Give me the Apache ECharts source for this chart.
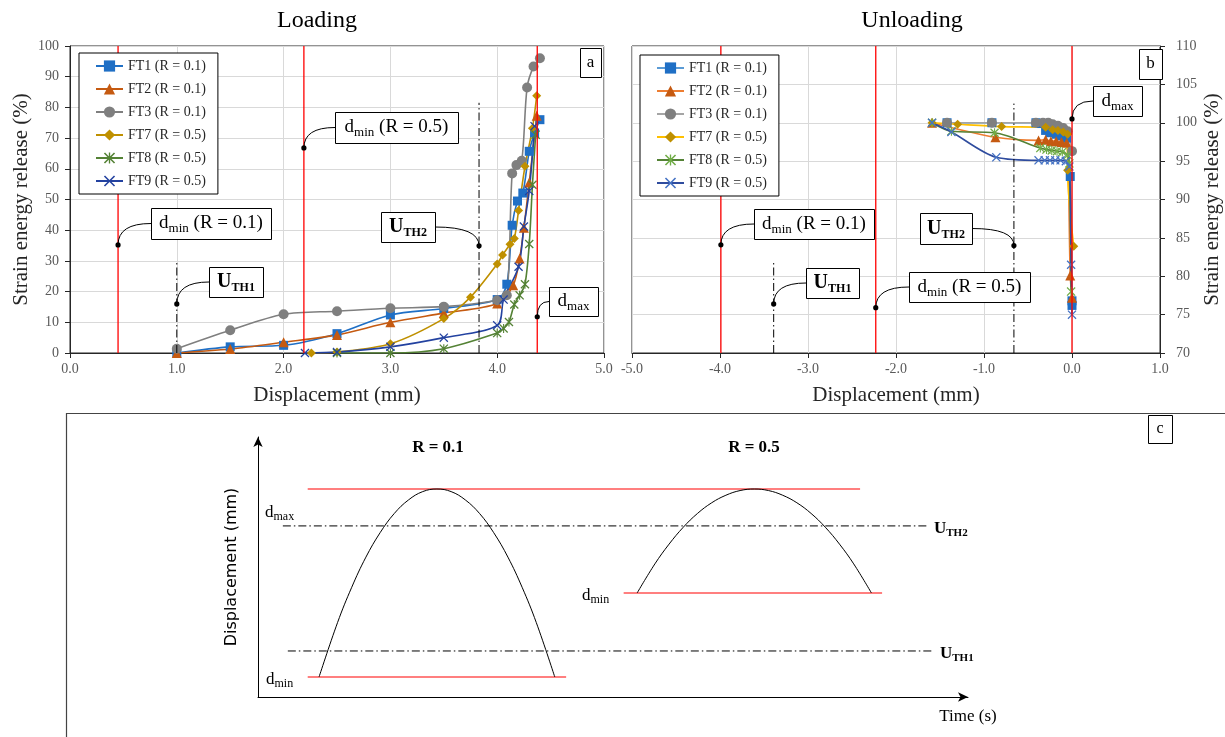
<!DOCTYPE html>
<html><head><meta charset="utf-8">
<script src="https://cdn.jsdelivr.net/npm/echarts@6/dist/echarts.min.js"></script>
<style>html,body{margin:0;padding:0;background:#fff}#c{width:1225px;height:737px}</style>
</head><body><div id="c"></div><script>
// ---------- data ----------
const seriesNames = ['FT1 (R = 0.1)', 'FT2 (R = 0.1)', 'FT3 (R = 0.1)', 'FT7 (R = 0.5)', 'FT8 (R = 0.5)', 'FT9 (R = 0.5)'];

// Panel a: Loading (displacement mm, strain energy release %)
const loadFT1 = [[1.0,0],[1.5,2.0],[2.0,2.5],[2.5,6.3],[3.0,12.4],[3.5,14.5],[4.0,17.4],[4.09,22.4],[4.14,41.6],[4.19,49.5],[4.24,52.1],[4.30,65.7],[4.35,71.7],[4.40,76.0]];
const loadFT2 = [[1.0,0],[1.5,1.3],[2.0,3.5],[2.5,5.9],[3.0,10.0],[3.5,13.0],[4.0,16.1],[4.15,22.1],[4.21,30.8],[4.25,40.8],[4.30,55.5],[4.37,77.3]];
const loadFT3 = [[1.0,1.4],[1.5,7.4],[2.0,12.6],[2.5,13.6],[3.0,14.6],[3.5,15.1],[4.0,17.2],[4.09,18.8],[4.14,58.5],[4.18,61.2],[4.23,62.6],[4.28,86.5],[4.34,93.3],[4.40,96.0]];
const loadFT7 = [[2.26,0],[2.5,0.3],[3.0,3.0],[3.5,11.2],[3.75,18.2],[4.0,29.0],[4.05,31.9],[4.12,35.4],[4.16,37.3],[4.20,46.4],[4.26,60.8],[4.33,73.2],[4.37,83.8]];
const loadFT8 = [[2.5,0],[3.0,0],[3.5,1.4],[4.0,6.5],[4.06,8.0],[4.11,10.1],[4.16,15.8],[4.21,18.8],[4.26,22.4],[4.30,35.5],[4.33,54.8],[4.36,71.1]];
const loadFT9 = [[2.2,0],[2.5,0.3],[3.0,2.0],[3.5,5.0],[4.0,9.0],[4.06,17.4],[4.20,28.1],[4.25,41.2],[4.30,52.8],[4.35,73.9]];

// Panel b: Unloading
const unFT1 = [[-1.42,100],[-0.91,100],[-0.41,100],[-0.35,99.9],[-0.30,99.0],[-0.25,98.7],[-0.18,98.5],[-0.12,98.3],[-0.06,98.0],[-0.02,93.0],[0,76.8],[0,76.2]];
const unFT2 = [[-1.59,100],[-0.87,98.1],[-0.38,97.7],[-0.30,97.8],[-0.24,97.6],[-0.18,97.6],[-0.12,97.5],[-0.06,97.4],[-0.02,80.1],[0,77.2]];
const unFT3 = [[-1.42,100],[-0.91,100],[-0.41,100],[-0.33,100],[-0.27,100],[-0.22,99.8],[-0.16,99.6],[-0.10,99.3],[-0.05,98.9],[0,96.3]];
const unFT7 = [[-1.59,100],[-1.30,99.8],[-0.80,99.5],[-0.30,99.4],[-0.22,99.1],[-0.16,99.0],[-0.10,98.8],[-0.05,98.5],[-0.05,93.8],[0.02,83.9]];
const unFT8 = [[-1.59,100],[-1.37,98.9],[-0.88,98.7],[-0.36,96.7],[-0.29,96.5],[-0.23,96.4],[-0.17,96.3],[-0.11,96.2],[-0.05,95.8],[-0.03,94.7],[-0.01,78.0]];
const unFT9 = [[-1.59,100],[-1.37,98.8],[-0.86,95.5],[-0.38,95.1],[-0.31,95.1],[-0.25,95.1],[-0.19,95.1],[-0.13,95.1],[-0.07,95.0],[-0.03,94.3],[-0.01,81.5],[0,75.0]];

// Reference lines
const loadRedX = [0.45, 2.19, 4.375];            // dmin(R=0.1), dmin(R=0.5), dmax
const loadDashX = [1.0, 3.83];                    // UTH1, UTH2
const loadDashTop = [29.5, 81.5];
const unRedX = [-3.99, -2.23, 0.0];
const unDashX = [-3.39, -0.66];
const unDashTop = [81.8, 102.5];

// Axis ticks
const axA = {xmin:0, xmax:5, xint:1, ymin:0, ymax:100, yint:10};
const axB = {xmin:-5, xmax:1, xint:1, ymin:70, ymax:110, yint:5};

// Panel c schematic (time units 0-100, displacement units 0-100)
const schemeTop = [[7,80],[84.8,80]];
const schemeMin01 = [[7,7.7],[43.4,7.7]];
const schemeMin05 = [[51.5,40],[87.9,40]];
const schemeUth2 = [[3.5,65.8],[94.2,65.8]];
const schemeUth1 = [[4.2,17.7],[94.9,17.7]];
const wave01X = [8.6,11.2,13.2,15.2,17.2,19.2,21.2,23.2,25.2,27.2,29.2,31.2,33.2,35.2,37.2,39.2,41.8];
const wave01Y = [7.7,28.6,42.2,53.8,63.2,70.6,75.8,79.0,80,79.0,75.8,70.6,63.2,53.8,42.2,28.6,7.7];
const wave05X = [53.4,55.9,57.9,59.9,61.9,63.9,65.9,67.9,69.9,71.9,73.9,75.9,77.9,79.9,81.9,83.9,86.4];
const wave05Y = [40,51.2,58.8,65.3,70.6,74.7,77.6,79.4,80,79.4,77.6,74.7,70.6,65.3,58.8,51.2,40];

// ---------- styling ----------
const SERIF = 'Liberation Serif';
const STAR = 'path://M1,0 L5,4 L9,0 L10,1 L6,5 L10,9 L9,10 L5,6 L1,10 L0,9 L4,5 L0,1 Z M4.4,0 L5.6,0 L5.6,10 L4.4,10 Z';
const XSYM = 'path://M1,0 L5,4 L9,0 L10,1 L6,5 L10,9 L9,10 L5,6 L1,10 L0,9 L4,5 L0,1 Z';
const symbols = ['rect','triangle','circle','diamond',STAR,XSYM];
const symSizes = [9,10,10,9,9,9];
const colA = ['#1F6FC5','#C55A11','#7F7F7F','#BF9000','#548235','#2342A0'];
const lineB = ['#5B9BD5','#ED7D31','#A5A5A5','#FFC000','#548235','#2F4C9E'];
const markB = ['#1F6FC5','#C55A11','#7F7F7F','#BF9000','#70AD47','#4472C4'];
const loadSets = [loadFT1, loadFT2, loadFT3, loadFT7, loadFT8, loadFT9];
const unSets = [unFT1, unFT2, unFT3, unFT7, unFT8, unFT9];
const namesB = seriesNames.map(n => n + ' ');

const chart = echarts.init(document.getElementById('c'));

const axisLabel = {fontFamily: SERIF, fontSize: 14, color: '#595959', margin: 9, formatter: v => (+v).toFixed(1)};
const yLabelA = {fontFamily: SERIF, fontSize: 14, color: '#595959', margin: 11};
const yLabelB = {fontFamily: SERIF, fontSize: 14, color: '#595959', margin: 16};
const nameStyle = {fontFamily: SERIF, fontSize: 21, color: '#262626'};
const splitLine = {show: true, lineStyle: {color: '#D9D9D9', width: 1}};
const axLine = {show: true, onZero: false, lineStyle: {color: '#262626', width: 1}};
const tick = {show: true, inside: false, length: 5, lineStyle: {color: '#262626'}};

const series = [];
loadSets.forEach((d, i) => series.push({
  type: 'line', name: seriesNames[i], xAxisIndex: 0, yAxisIndex: 0, data: d, smooth: 0.3,
  symbol: symbols[i], symbolSize: symSizes[i], showAllSymbol: true,
  lineStyle: {color: colA[i], width: 1.6}, itemStyle: {color: colA[i]}, z: 2, silent: true
}));
unSets.forEach((d, i) => series.push({
  type: 'line', name: namesB[i], xAxisIndex: 1, yAxisIndex: 1, data: d, smooth: 0.3,
  symbol: symbols[i], symbolSize: symSizes[i], showAllSymbol: true,
  lineStyle: {color: lineB[i], width: 1.6}, itemStyle: {color: markB[i]}, z: 2, silent: true
}));
function vline(ax, x, y0, y1, color, type, w) {
  series.push({type: 'line', xAxisIndex: ax, yAxisIndex: ax, data: [[x, y0], [x, y1]], symbol: 'none', silent: true,
    lineStyle: {color, width: w, type}, z: 3});
}
loadRedX.forEach(x => vline(0, x, axA.ymin, axA.ymax, '#FF0000', 'solid', 1.3));
loadDashX.forEach((x, i) => vline(0, x, axA.ymin, loadDashTop[i], '#000', [8, 3, 1.5, 3], 1));
unRedX.forEach(x => vline(1, x, axB.ymin, axB.ymax, '#FF0000', 'solid', 1.3));
unDashX.forEach((x, i) => vline(1, x, axB.ymin, unDashTop[i], '#000', [8, 3, 1.5, 3], 1));
function hline(pts, color, type, w) {
  series.push({type: 'line', xAxisIndex: 2, yAxisIndex: 2, data: pts, symbol: 'none', silent: true, lineStyle: {color, width: w, type}, z: 3});
}
hline(schemeTop, '#FF0000', 'solid', 1.2);
hline(schemeMin01, '#FF0000', 'solid', 1.2);
hline(schemeMin05, '#FF0000', 'solid', 1.2);
hline(schemeUth2, '#000', [8, 3, 1.5, 3], 1);
hline(schemeUth1, '#000', [8, 3, 1.5, 3], 1);
series.push({type: 'line', xAxisIndex: 2, yAxisIndex: 2, data: wave01X.map((x, i) => [x, wave01Y[i]]), smooth: 0.4, symbol: 'none', silent: true, lineStyle: {color: '#000', width: 1}, z: 4});
series.push({type: 'line', xAxisIndex: 2, yAxisIndex: 2, data: wave05X.map((x, i) => [x, wave05Y[i]]), smooth: 0.4, symbol: 'none', silent: true, lineStyle: {color: '#000', width: 1}, z: 4});

const legendBase = {orient: 'vertical', backgroundColor: '#fff', borderColor: '#000', borderWidth: 1,
  padding: [6, 12, 6, 16], itemGap: 9, itemWidth: 27, itemHeight: 14, selectedMode: false,
  textStyle: {fontFamily: SERIF, fontSize: 14, color: '#262626'}, z: 10};

const arrowLine = {show: true, onZero: false, symbol: ['none', 'arrow'], symbolSize: [7, 10], lineStyle: {color: '#000', width: 1}};

chart.setOption({
  animation: false,
  backgroundColor: '#fff',
  grid: [
    {left: 70, top: 46, width: 534, height: 307, show: true, borderColor: '#262626', borderWidth: 1},
    {left: 632, top: 46, width: 528, height: 307, show: true, borderColor: '#262626', borderWidth: 1},
    {left: 258, top: 437, width: 710, height: 260}
  ],
  legend: [
    Object.assign({}, legendBase, {left: 79, top: 53, data: seriesNames}),
    Object.assign({}, legendBase, {left: 640, top: 55, data: namesB, formatter: n => n.trim()})
  ],
  xAxis: [
    {gridIndex: 0, type: 'value', min: axA.xmin, max: axA.xmax, interval: axA.xint, axisLabel, splitLine, axisLine: axLine, axisTick: tick,
      name: 'Displacement (mm)', nameLocation: 'middle', nameGap: 32, nameTextStyle: nameStyle},
    {gridIndex: 1, type: 'value', min: axB.xmin, max: axB.xmax, interval: axB.xint, axisLabel, splitLine, axisLine: axLine, axisTick: tick,
      name: 'Displacement (mm)', nameLocation: 'middle', nameGap: 32, nameTextStyle: nameStyle},
    {gridIndex: 2, type: 'value', min: 0, max: 100, axisLabel: {show: false}, splitLine: {show: false}, axisTick: {show: false},
      axisLine: arrowLine}
  ],
  yAxis: [
    {gridIndex: 0, type: 'value', min: axA.ymin, max: axA.ymax, interval: axA.yint, axisLabel: yLabelA, splitLine, axisLine: axLine, axisTick: tick,
      name: 'Strain energy release (%)', nameLocation: 'middle', nameGap: 38, nameRotate: 90, nameTextStyle: nameStyle},
    {gridIndex: 1, type: 'value', position: 'right', min: axB.ymin, max: axB.ymax, interval: axB.yint, axisLabel: yLabelB, splitLine, axisLine: axLine, axisTick: tick,
      name: 'Strain energy release (%)', nameLocation: 'middle', nameGap: 42, nameRotate: 90, nameTextStyle: nameStyle},
    {gridIndex: 2, type: 'value', min: 0, max: 100, axisLabel: {show: false}, splitLine: {show: false}, axisTick: {show: false},
      axisLine: arrowLine,
      name: 'Displacement (mm)', nameLocation: 'middle', nameGap: 18, nameRotate: 90,
      nameTextStyle: {fontFamily: 'DejaVu Sans', fontSize: 16, color: '#000'}}
  ],
  series
});

// ---------- annotations ----------
const dminRich = {
  d: {fontFamily: SERIF, fontSize: 19, lineHeight: 24, fill: '#000'},
  s: {fontFamily: SERIF, fontSize: 13, lineHeight: 13, verticalAlign: 'bottom', fill: '#000'}
};
const uRich = {
  d: {fontFamily: SERIF, fontSize: 20, fontWeight: 'bold', lineHeight: 24, fill: '#000'},
  s: {fontFamily: SERIF, fontSize: 12, fontWeight: 'bold', lineHeight: 12, verticalAlign: 'bottom', fill: '#000'}
};
const txtDmin01 = '{d|d}{s|min}{d| (R = 0.1)}';
const txtDmin05 = '{d|d}{s|min}{d| (R = 0.5)}';
const txtDmax = '{d|d}{s|max}';
const txtU1 = '{d|U}{s|TH1}';
const txtU2 = '{d|U}{s|TH2}';

const callouts = [
  {g: 0, at: [loadRedX[0], 35.2], box: [151, 208, 120, 31], text: txtDmin01, rich: dminRich, side: 'left'},
  {g: 0, at: [loadRedX[1], 66.8], box: [335, 112, 123, 31], text: txtDmin05, rich: dminRich, side: 'left'},
  {g: 0, at: [loadDashX[0], 16.0], box: [209, 267, 54, 30], text: txtU1, rich: uRich, side: 'left'},
  {g: 0, at: [loadDashX[1], 34.9], box: [381, 212, 54, 30], text: txtU2, rich: uRich, side: 'right'},
  {g: 0, at: [loadRedX[2], 11.8], box: [549, 287, 49, 29], text: txtDmax, rich: dminRich, side: 'left'},
  {g: 1, at: [unRedX[2], 100.5], box: [1093, 86, 49, 30], text: txtDmax, rich: dminRich, side: 'left'},
  {g: 1, at: [unRedX[0], 84.1], box: [754, 209, 120, 30], text: txtDmin01, rich: dminRich, side: 'left'},
  {g: 1, at: [unDashX[1], 84.0], box: [920, 213, 52, 31], text: txtU2, rich: uRich, side: 'right'},
  {g: 1, at: [unDashX[0], 76.4], box: [806, 268, 53, 30], text: txtU1, rich: uRich, side: 'left'},
  {g: 1, at: [unRedX[1], 75.9], box: [909, 272, 121, 30], text: txtDmin05, rich: dminRich, side: 'left'}
];

const gfx = [];
function boxText(b, text, rich, extraStyle) {
  gfx.push({type: 'rect', z: 50, shape: {x: b[0] + 0.5, y: b[1] + 0.5, width: b[2], height: b[3]},
    style: {fill: '#fff', stroke: '#000', lineWidth: 1}});
  gfx.push({type: 'text', z: 51, x: b[0] + b[2] / 2, y: b[1] + b[3] / 2,
    style: Object.assign({text, rich, align: 'center', verticalAlign: 'middle', fill: '#000'}, extraStyle || {})});
}
callouts.forEach(c => {
  const p = chart.convertToPixel({gridIndex: c.g}, c.at);
  const b = c.box;
  const ex = c.side === 'left' ? b[0] : b[0] + b[2];
  const ey = b[1] + b[3] / 2;
  gfx.push({type: 'bezierCurve', z: 49, shape: {x1: p[0], y1: p[1], x2: ex, y2: ey, cpx1: p[0], cpy1: ey},
    style: {stroke: '#000', lineWidth: 1, fill: 'none'}});
  gfx.push({type: 'circle', z: 52, shape: {cx: p[0], cy: p[1], r: 2.6}, style: {fill: '#000'}});
  boxText(b, c.text, c.rich);
});
// panel letters
const letterStyle = {font: '17px "Liberation Serif"'};
boxText([580, 48, 21, 29], 'a', null, letterStyle);
boxText([1139, 49, 23, 30], 'b', null, letterStyle);
// titles
gfx.push({type: 'text', z: 51, x: 317, y: 21, style: {text: 'Loading', font: '24px "Liberation Serif"', fill: '#000', align: 'center', verticalAlign: 'middle'}});
gfx.push({type: 'text', z: 51, x: 912, y: 21, style: {text: 'Unloading', font: '24px "Liberation Serif"', fill: '#000', align: 'center', verticalAlign: 'middle'}});
// panel c frame
gfx.push({type: 'rect', z: 1, shape: {x: 66.5, y: 413.5, width: 1200, height: 400}, style: {fill: 'none', stroke: '#444', lineWidth: 1.2}});
boxText([1148, 415, 24, 28], 'c', null, {font: '16px "Liberation Serif"'});
// panel c labels
const cRich = {
  d: {fontFamily: SERIF, fontSize: 17, lineHeight: 20, fill: '#000'},
  s: {fontFamily: SERIF, fontSize: 12, lineHeight: 12, verticalAlign: 'bottom', fill: '#000'}
};
const cRichB = {
  d: {fontFamily: SERIF, fontSize: 17, fontWeight: 'bold', lineHeight: 20, fill: '#000'},
  s: {fontFamily: SERIF, fontSize: 11, fontWeight: 'bold', lineHeight: 11, verticalAlign: 'bottom', fill: '#000'}
};
function ctext(x, y, text, rich, align) {
  gfx.push({type: 'text', z: 51, x, y, style: {text, rich, align: align || 'left', verticalAlign: 'middle', fill: '#000'}});
}
ctext(265, 513, txtDmax, cRich);
ctext(266, 680, '{d|d}{s|min}', cRich);
ctext(582, 596, '{d|d}{s|min}', cRich);
ctext(934, 529, txtU2, cRichB);
ctext(940, 654, txtU1, cRichB);
gfx.push({type: 'text', z: 51, x: 438, y: 448, style: {text: 'R = 0.1', font: 'bold 17px "Liberation Serif"', fill: '#000', align: 'center', verticalAlign: 'middle'}});
gfx.push({type: 'text', z: 51, x: 754, y: 448, style: {text: 'R = 0.5', font: 'bold 17px "Liberation Serif"', fill: '#000', align: 'center', verticalAlign: 'middle'}});
gfx.push({type: 'text', z: 51, x: 968, y: 717, style: {text: 'Time (s)', font: '17px "Liberation Serif"', fill: '#000', align: 'center', verticalAlign: 'middle'}});

chart.setOption({graphic: gfx});
</script></body></html>
